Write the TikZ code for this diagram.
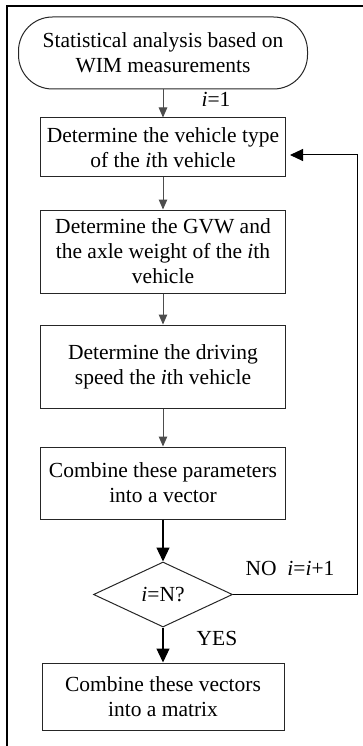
\documentclass[tikz,border=0pt]{standalone}
\usepackage{fontspec}
\setmainfont{Liberation Serif}
\usepackage{xcolor}
\usepackage{tikz}
\usetikzlibrary{arrows.meta,shapes.geometric}
\definecolor{flowgray}{HTML}{4D4D4D}

\begin{document}
\begin{tikzpicture}[x=1pt,y=-1pt,font=\fontsize{21.5}{25}\selectfont,
  box/.style={draw=black!85,line width=1pt,align=center,minimum width=245pt,inner sep=0pt},
  thinarrow/.style={draw=flowgray,line width=1pt,-{Triangle[length=10pt,width=8.5pt]},fill=flowgray},
  bigarrow/.style={draw=black,line width=1.2pt,-{Triangle[length=14pt,width=13pt]}}]
\useasboundingbox (0,0) rectangle (363,746);
% frame
\draw[line width=2pt] (7,746) -- (7,6) -- (363,6);
% steps
\node[box,rounded corners=34pt,minimum width=289pt,minimum height=72pt] (start) at (163,53)
  {Statistical analysis based on\\WIM measurements};
\node[box,minimum height=59pt] (vtype) at (163,147.5) {Determine the vehicle type\\of the \textit{i}th vehicle};
\node[box,minimum height=83pt] (weight) at (163,251.5) {Determine the GVW and\\the axle weight of the \textit{i}th\\vehicle};
\node[box,minimum height=83pt] (speed) at (163,366.5) {Determine the driving\\speed the \textit{i}th vehicle};
\node[box,minimum height=72pt] (vector) at (163,483) {Combine these parameters\\into a vector};
\node[draw=black!85,line width=1pt,diamond,aspect=2.14,inner sep=0pt,minimum width=139pt,minimum height=65pt] (check) at (163,594.5) {\textit{i}=N?};
\node[box,minimum width=242pt,minimum height=67pt] (matrix) at (163,696.5) {Combine these vectors\\into a matrix};
% arrows
\draw[thinarrow] (start) -- (vtype);
\draw[thinarrow] (vtype) -- (weight);
\draw[thinarrow] (weight) -- (speed);
\draw[thinarrow] (speed) -- (vector);
\draw[bigarrow] (vector) -- (check);
\draw[bigarrow] (check) -- (matrix);
\coordinate (back) at (357,155);
\draw[bigarrow,line width=1pt,-{Triangle[length=13pt,width=12pt]},shorten >=4pt] (check.east) -| (back) -- (back -| vtype.east);
% labels
\node (init) at (216,99) {\textit{i}=1};
\node (no) at (290,568) {NO\hspace{0.5em}\textit{i}=\textit{i}+1};
\node (yes) at (217,638) {YES};
\end{tikzpicture}
\end{document}
